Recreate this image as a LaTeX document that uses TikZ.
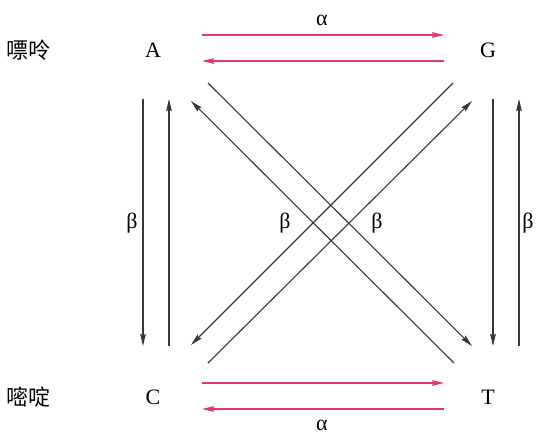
\documentclass[tikz,border=0pt]{standalone}
\usepackage{fontspec}
\setmainfont{Liberation Serif}
\newfontfamily\cjk{Noto Sans CJK SC}
\usepackage{tikz}
\usetikzlibrary{arrows.meta}
\definecolor{alphared}{RGB}{222,58,102}
\definecolor{betagray}{RGB}{55,55,55}

\begin{document}
\begin{tikzpicture}[x=0.5pt, y=-0.5pt, font=\fontsize{11}{13}\selectfont,
    tip/.style={-{Stealth[length=6pt, width=2.8pt, inset=0.7pt]}},
    trans/.style={tip, line width=0.65pt, alphared},
    transv/.style={tip, line width=0.55pt, betagray},
    lbl/.style={inner sep=0pt}]
    \useasboundingbox (0,0) rectangle (537,435);

    % --- 1. 碱基与类别 ---
    \node[lbl] (pur) at (28,50) {\cjk 嘌呤};
    \node[lbl] (pyr) at (28,397) {\cjk 嘧啶};
    \node[lbl] (A) at (153,50) {A};
    \node[lbl] (G) at (488,50) {G};
    \node[lbl] (C) at (153,397) {C};
    \node[lbl] (T) at (488,397) {T};

    % --- 2. 箭头端点 ---
    \coordinate (AG1) at (202,35);  \coordinate (GA1) at (444,35);
    \coordinate (AG2) at (202,61);  \coordinate (GA2) at (444,61);
    \coordinate (CT1) at (202,383); \coordinate (TC1) at (444,383);
    \coordinate (CT2) at (202,409); \coordinate (TC2) at (444,409);
    \coordinate (AC1) at (143,99);  \coordinate (CA1) at (143,346);
    \coordinate (AC2) at (169,99);  \coordinate (CA2) at (169,346);
    \coordinate (GT1) at (493,99);  \coordinate (TG1) at (493,346);
    \coordinate (GT2) at (519,99);  \coordinate (TG2) at (519,346);
    \coordinate (AT1) at (208,83);  \coordinate (TA1) at (472,346);
    \coordinate (AT2) at (191,101); \coordinate (TA2) at (454,363);
    \coordinate (GC1) at (472,101); \coordinate (CG1) at (208,363);
    \coordinate (GC2) at (453,83);  \coordinate (CG2) at (191,345);

    % --- 3. 转换 (alpha) ---
    \draw[trans] (AG1) -- (GA1);
    \draw[trans] (GA2) -- (AG2);
    \draw[trans] (CT1) -- (TC1);
    \draw[trans] (TC2) -- (CT2);
    \node[lbl] (alphaT) at (322,20) {α};
    \node[lbl] (alphaB) at (322,425) {α};

    % --- 4. 颠换 (beta) ---
    \draw[transv] (AC1) -- (CA1);
    \draw[transv] (CA2) -- (AC2);
    \draw[transv] (GT1) -- (TG1);
    \draw[transv] (TG2) -- (GT2);
    \draw[transv] (AT1) -- (TA1);
    \draw[transv] (TA2) -- (AT2);
    \draw[transv] (CG1) -- (GC1);
    \draw[transv] (GC2) -- (CG2);
    \node[lbl] (betaL) at (132,223) {β};
    \node[lbl] (betaCL) at (285,223) {β};
    \node[lbl] (betaCR) at (377,223) {β};
    \node[lbl] (betaR) at (528,223) {β};

\end{tikzpicture}
\end{document}
